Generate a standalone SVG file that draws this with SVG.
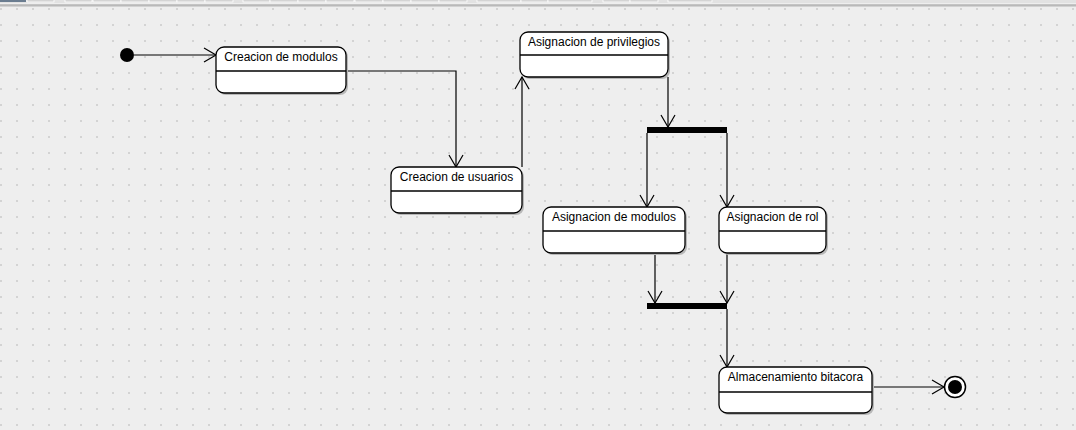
<svg xmlns="http://www.w3.org/2000/svg" width="1076" height="430" viewBox="0 0 1076 430">
<defs>
<style>
.node rect.box{fill:#ffffff;stroke:#000;stroke-width:1.3}
.node rect.sh{fill:#b8b8b8}
.node line{stroke:#000;stroke-width:1.3}
.node text{font-family:"Liberation Sans",Arial,sans-serif;font-size:12px;fill:#000;text-anchor:middle}
.conn path{fill:none;stroke:#000;stroke-width:1.2}
.tb{fill:#d4d4d4;stroke:#ffffff;stroke-width:0.8}
</style>
<pattern id="grid" x="0" y="8" width="16" height="16" patternUnits="userSpaceOnUse">
<rect x="0" y="0" width="2" height="2" fill="#d3d3d3"/>
</pattern>
<marker id="arr" viewBox="-13 -8 14 16" markerWidth="14" markerHeight="16" refX="0" refY="0" orient="auto" markerUnits="userSpaceOnUse" overflow="visible">
<path d="M-12,-7 L0,0 L-12,7" fill="none" stroke="#000" stroke-width="1.2"/>
</marker>
</defs>
<rect x="0" y="0" width="1076" height="430" fill="#eeeeee"/>
<rect x="0" y="7" width="1076" height="423" fill="url(#grid)"/>
<g id="toolbar">
<rect x="0" y="0" width="1076" height="3" fill="#e2e2e2"/>
<rect x="0" y="-1" width="26" height="3" fill="#6b7d90"/>
<rect class="tb" x="27" y="-1" width="27" height="3"/>
<rect class="tb" x="65" y="-1" width="27" height="3"/>
<rect class="tb" x="93" y="-1" width="28" height="3"/>
<rect class="tb" x="121" y="-1" width="28" height="3"/>
<rect class="tb" x="149" y="-1" width="28" height="3"/>
<rect class="tb" x="177" y="-1" width="28" height="3"/>
<rect class="tb" x="205" y="-1" width="28" height="3"/>
<rect class="tb" x="243" y="-1" width="27" height="3"/>
<rect class="tb" x="270" y="-1" width="28" height="3"/>
<rect class="tb" x="298" y="-1" width="28" height="3"/>
<rect class="tb" x="326" y="-1" width="28" height="3"/>
<rect class="tb" x="355" y="-1" width="28" height="3"/>
<rect class="tb" x="383" y="-1" width="28" height="3"/>
<rect class="tb" x="411" y="-1" width="28" height="3"/>
<rect class="tb" x="439" y="-1" width="28" height="3"/>
<rect class="tb" x="477" y="-1" width="44" height="3"/>
<rect class="tb" x="521" y="-1" width="27" height="3"/>
<rect class="tb" x="548" y="-1" width="44" height="3"/>
<rect class="tb" x="603" y="-1" width="27" height="3"/>
<rect class="tb" x="630" y="-1" width="28" height="3"/>
<rect class="tb" x="668" y="-1" width="44" height="3"/>
<rect x="0" y="4.5" width="1076" height="1.2" fill="#9a9a9a"/>
<rect x="0" y="5.7" width="1076" height="1" fill="#c6c6c6"/>
</g>
<g class="conn" id="connectors">
<path d="M134,55 H216" marker-end="url(#arr)"/>
<path d="M346,71 H456 V167" marker-end="url(#arr)"/>
<path d="M522,167 V77" marker-end="url(#arr)"/>
<path d="M668,77 V127" marker-end="url(#arr)"/>
<path d="M647,133 V207" marker-end="url(#arr)"/>
<path d="M727,133 V207" marker-end="url(#arr)"/>
<path d="M655,253 V303" marker-end="url(#arr)"/>
<path d="M727,253 V303" marker-end="url(#arr)"/>
<path d="M727,309 V367" marker-end="url(#arr)"/>
<path d="M872,387 H944" marker-end="url(#arr)"/>
</g>
<g id="start"><circle cx="127" cy="55" r="7" fill="#000"/></g>
<g id="end"><circle cx="955" cy="387" r="10.5" fill="#fff" stroke="#000" stroke-width="1.5"/><circle cx="955" cy="387" r="7" fill="#000"/></g>
<g id="fork1"><rect x="647" y="127" width="80" height="6" fill="#000"/></g>
<g id="fork2"><rect x="647" y="303" width="80" height="6" fill="#000"/></g>
<g class="node" id="creacion-modulos">
<rect class="sh" x="218" y="49" width="130" height="46" rx="8"/>
<rect class="box" x="216" y="47" width="130" height="46" rx="8"/>
<line x1="216" y1="71" x2="346" y2="71"/>
<text x="281" y="61">Creacion de modulos</text>
</g>
<g class="node" id="creacion-usuarios">
<rect class="sh" x="393" y="169" width="131" height="46" rx="8"/>
<rect class="box" x="391" y="167" width="131" height="46" rx="8"/>
<line x1="391" y1="191" x2="522" y2="191"/>
<text x="456.5" y="181">Creacion de usuarios</text>
</g>
<g class="node" id="asignacion-privilegios">
<rect class="sh" x="522" y="34" width="148" height="45" rx="8"/>
<rect class="box" x="520" y="32" width="148" height="45" rx="8"/>
<line x1="520" y1="55" x2="668" y2="55"/>
<text x="594" y="46">Asignacion de privilegios</text>
</g>
<g class="node" id="asignacion-modulos">
<rect class="sh" x="545" y="209" width="142" height="46" rx="8"/>
<rect class="box" x="543" y="207" width="142" height="46" rx="8"/>
<line x1="543" y1="231" x2="685" y2="231"/>
<text x="614" y="221">Asignacion de modulos</text>
</g>
<g class="node" id="asignacion-rol">
<rect class="sh" x="721" y="209" width="107" height="46" rx="8"/>
<rect class="box" x="719" y="207" width="107" height="46" rx="8"/>
<line x1="719" y1="231" x2="826" y2="231"/>
<text x="772.5" y="221">Asignacion de rol</text>
</g>
<g class="node" id="almacenamiento-bitacora">
<rect class="sh" x="721" y="369" width="153" height="46" rx="8"/>
<rect class="box" x="719" y="367" width="153" height="46" rx="8"/>
<line x1="719" y1="392" x2="872" y2="392"/>
<text x="795.5" y="381">Almacenamiento bitacora</text>
</g>
</svg>
